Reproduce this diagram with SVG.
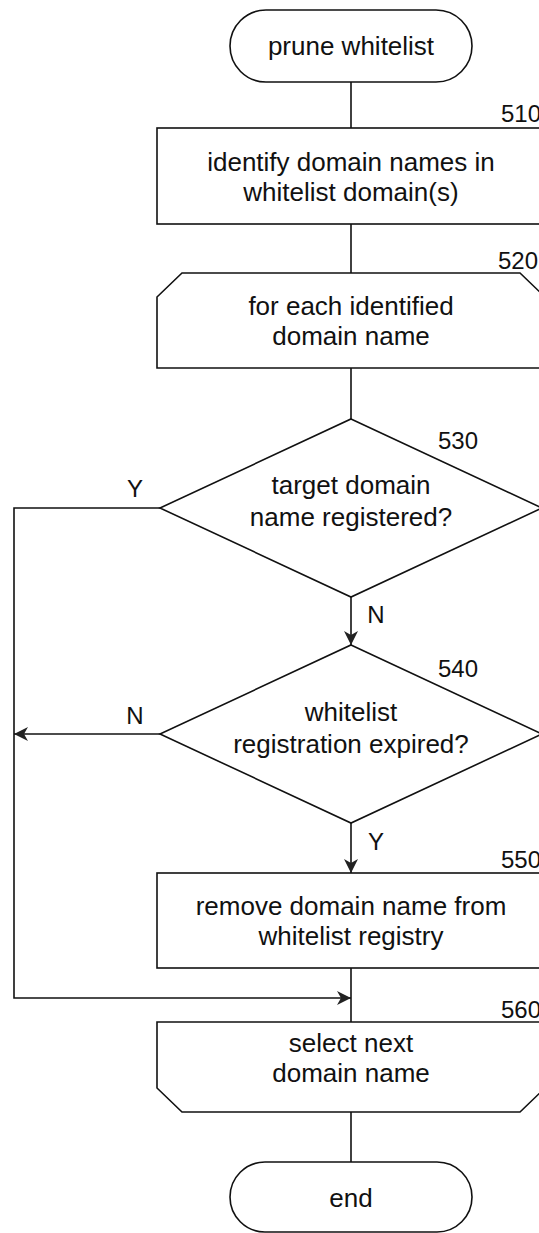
<svg xmlns="http://www.w3.org/2000/svg" width="539" height="1233" viewBox="0 0 539 1233">
<defs>
<style>
.s{fill:#fff;stroke:#111;stroke-width:1.6}
.c{fill:none;stroke:#111;stroke-width:1.6}
.t{font-family:"Liberation Sans",Arial,sans-serif;font-size:26px;fill:#111;text-anchor:middle}
.l{font-family:"Liberation Sans",Arial,sans-serif;font-size:24px;fill:#111}
</style>
<marker id="ah" viewBox="0 0 14 14" refX="14" refY="7" markerWidth="14" markerHeight="14" markerUnits="userSpaceOnUse" orient="auto">
<path d="M0,0 L14,7 L0,14 L4,7 Z" fill="#222"/>
</marker>
</defs>
<rect width="539" height="1233" fill="#fff"/>
<g id="connectors">
<line class="c" x1="351" y1="82" x2="351" y2="128"/>
<line class="c" x1="351" y1="224" x2="351" y2="273"/>
<line class="c" x1="351" y1="368" x2="351" y2="419"/>
<line class="c" x1="351" y1="597" x2="351" y2="645" marker-end="url(#ah)"/>
<line class="c" x1="351" y1="823" x2="351" y2="873" marker-end="url(#ah)"/>
<polyline class="c" points="160,508 14,508 14,998 351,998" marker-end="url(#ah)"/>
<line class="c" x1="160" y1="734" x2="14" y2="734" marker-end="url(#ah)"/>
<line class="c" x1="351" y1="968" x2="351" y2="1022"/>
<line class="c" x1="351" y1="1112" x2="351" y2="1162"/>
<text class="l" x="135" y="497" text-anchor="middle">Y</text>
<text class="l" x="376" y="623" text-anchor="middle">N</text>
<text class="l" x="135" y="724" text-anchor="middle">N</text>
<text class="l" x="376" y="850" text-anchor="middle">Y</text>
</g>
<g id="start">
<rect class="s" x="230" y="10" width="242" height="72" rx="36"/>
<text class="t" x="351" y="55">prune whitelist</text>
</g>
<g id="n510">
<rect class="s" x="157" y="128" width="400" height="96"/>
<text class="l" x="501" y="122">510</text>
<text class="t" x="351" y="171">identify domain names in</text>
<text class="t" x="351" y="201">whitelist domain(s)</text>
</g>
<g id="n520">
<path class="s" d="M157,297 L182,273 L520,273 L545,297 L545,368 L157,368 Z"/>
<text class="l" x="498" y="269">520</text>
<text class="t" x="351" y="315">for each identified</text>
<text class="t" x="351" y="345">domain name</text>
</g>
<g id="n530">
<polygon class="s" points="351,419 542,508 351,597 160,508"/>
<text class="l" x="438" y="449">530</text>
<text class="t" x="351" y="494">target domain</text>
<text class="t" x="351" y="526">name registered?</text>
</g>
<g id="n540">
<polygon class="s" points="351,645 542,734 351,823 160,734"/>
<text class="l" x="438" y="677">540</text>
<text class="t" x="351" y="721">whitelist</text>
<text class="t" x="351" y="753">registration expired?</text>
</g>
<g id="n550">
<rect class="s" x="157" y="873" width="400" height="95"/>
<text class="l" x="501" y="868">550</text>
<text class="t" x="351" y="915">remove domain name from</text>
<text class="t" x="351" y="945">whitelist registry</text>
</g>
<g id="n560">
<path class="s" d="M157,1022 L545,1022 L545,1088 L520,1112 L182,1112 L157,1088 Z"/>
<text class="l" x="501" y="1018">560</text>
<text class="t" x="351" y="1052">select next</text>
<text class="t" x="351" y="1082">domain name</text>
</g>
<g id="end">
<rect class="s" x="230" y="1162" width="242" height="70" rx="35"/>
<text class="t" x="351" y="1207">end</text>
</g>
</svg>
